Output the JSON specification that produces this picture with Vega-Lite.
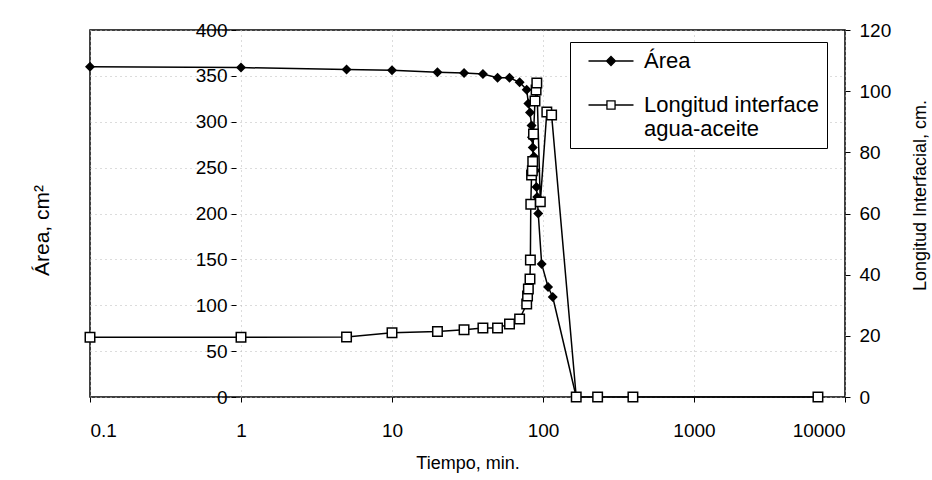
{
  "$schema": "https://vega.github.io/schema/vega-lite/v6.json",
  "width": 755,
  "height": 367,
  "autosize": {"type": "none"},
  "padding": {"left": 90, "top": 30, "right": 87, "bottom": 83},
  "background": "white",
  "config": {
    "font": "Liberation Sans",
    "view": {"stroke": "black", "strokeWidth": 1.5},
    "axis": {
      "labelFont": "Liberation Sans",
      "titleFont": "Liberation Sans",
      "labelColor": "black",
      "titleColor": "black",
      "tickColor": "black",
      "labelFontSize": 19,
      "titleFontSize": 17,
      "titleFontWeight": "normal",
      "tickSize": 5,
      "gridColor": "#b8b8b8",
      "gridDash": [1, 4],
      "gridWidth": 1
    },
    "legend": {
      "labelFont": "Liberation Sans",
      "labelFontSize": 22,
      "labelColor": "black"
    }
  },
  "datasets": {
    "area": [
      {"t": 0.1, "area": 360},
      {"t": 1, "area": 359},
      {"t": 5, "area": 357},
      {"t": 10, "area": 356},
      {"t": 20, "area": 354},
      {"t": 30, "area": 353},
      {"t": 40, "area": 352},
      {"t": 50, "area": 348},
      {"t": 60, "area": 348},
      {"t": 70, "area": 343},
      {"t": 78, "area": 335},
      {"t": 80, "area": 320},
      {"t": 82, "area": 310},
      {"t": 84, "area": 296},
      {"t": 84.5, "area": 283},
      {"t": 85.5, "area": 272},
      {"t": 87, "area": 262},
      {"t": 89, "area": 247},
      {"t": 90.5, "area": 229},
      {"t": 91.5, "area": 218},
      {"t": 93, "area": 200},
      {"t": 98, "area": 145},
      {"t": 108, "area": 120},
      {"t": 116, "area": 109},
      {"t": 166, "area": 0}
    ],
    "inter": [
      {"t": 0.1, "lon": 19.5},
      {"t": 1, "lon": 19.5},
      {"t": 5, "lon": 19.6},
      {"t": 10, "lon": 21},
      {"t": 20, "lon": 21.4},
      {"t": 30, "lon": 22},
      {"t": 40, "lon": 22.6},
      {"t": 50, "lon": 22.6},
      {"t": 60, "lon": 23.9},
      {"t": 70, "lon": 25.5},
      {"t": 78, "lon": 30.4},
      {"t": 79, "lon": 33},
      {"t": 80, "lon": 35.3},
      {"t": 82, "lon": 38.6},
      {"t": 82.5, "lon": 44.8},
      {"t": 83, "lon": 63},
      {"t": 84, "lon": 72.6},
      {"t": 85, "lon": 74},
      {"t": 85.5, "lon": 77},
      {"t": 86.5, "lon": 86},
      {"t": 88.5, "lon": 96.8},
      {"t": 90, "lon": 100.4},
      {"t": 91, "lon": 102.7},
      {"t": 96, "lon": 63.8},
      {"t": 106, "lon": 93.2},
      {"t": 114, "lon": 92.2},
      {"t": 166, "lon": 0},
      {"t": 230, "lon": 0},
      {"t": 394, "lon": 0},
      {"t": 6620, "lon": 0}
    ]
  },
  "encoding": {
    "x": {
      "field": "t",
      "type": "quantitative",
      "scale": {"type": "log", "domain": [0.1, 10000]},
      "axis": {
        "title": "Tiempo, min.",
        "values": [0.1, 1, 10, 100, 1000, 10000],
        "format": "~g",
        "domain": false,
        "grid": true,
        "labelPadding": 19,
        "titlePadding": 14,
        "titleFontSize": 18
      }
    }
  },
  "layer": [
    {
      "data": {"name": "area"},
      "encoding": {
        "y": {
          "field": "area",
          "type": "quantitative",
          "scale": {"domain": [0, 400]},
          "axis": {
            "orient": "left",
            "title": "Área, cm²",
            "titleFontSize": 21,
            "titleY": 200,
            "values": [0, 50, 100, 150, 200, 250, 300, 350, 400],
            "domain": false,
            "grid": true,
            "offset": -146,
            "labelPadding": 4,
            "titlePadding": 143
          }
        }
      },
      "layer": [
        {
          "mark": {"type": "line", "color": "black", "strokeWidth": 1.5},
          "encoding": {
            "color": {
              "datum": "Área",
              "type": "nominal",
              "scale": {"domain": ["Área", "Longitud interface agua-aceite"], "range": ["black", "black"]},
              "legend": {
                "title": null,
                "orient": "none",
                "legendX": 480,
                "legendY": 12,
                "strokeColor": "black",
                "fillColor": "white",
                "padding": 8,
                "symbolSize": 324,
                "symbolOffset": 22,
                "labelOffset": 22,
                "rowPadding": 22,
                "labelLimit": 300,
                "labelExpr": "datum.label == 'Longitud interface agua-aceite' ? ['Longitud interface', 'agua-aceite'] : datum.label",
                "encode": {
                  "symbols": {
                    "update": {
                      "shape": [
                        {"test": "datum.value === 'Área'", "value": "M-2.5,0H2.5M-0.5,0L0,-0.5L0.5,0L0,0.5Z"},
                        {"value": "M-2.5,0H-0.45M0.45,0H2.5M-0.45,-0.45H0.45V0.45H-0.45Z"}
                      ],
                      "fill": [
                        {"test": "datum.value === 'Área'", "value": "black"},
                        {"value": "white"}
                      ],
                      "stroke": {"value": "black"},
                      "strokeWidth": {"value": 1.3},
                      "size": {"value": 324},
                      "opacity": {"value": 1}
                    }
                  }
                }
              }
            }
          }
        },
        {
          "mark": {"type": "point", "shape": "diamond", "filled": true, "color": "black", "size": 100, "opacity": 1}
        }
      ]
    },
    {
      "data": {"name": "inter"},
      "encoding": {
        "y": {
          "field": "lon",
          "type": "quantitative",
          "scale": {"domain": [0, 120]},
          "axis": {
            "orient": "right",
            "title": "Longitud Interfacial, cm.",
            "titleFontSize": 18,
            "titleAngle": 270,
            "titleY": 165,
            "values": [0, 20, 40, 60, 80, 100, 120],
            "domain": false,
            "grid": false,
            "labelPadding": 9,
            "titlePadding": 39
          }
        }
      },
      "layer": [
        {
          "mark": {"type": "line", "color": "black", "strokeWidth": 1.5},
          "encoding": {
            "color": {"datum": "Longitud interface agua-aceite", "type": "nominal"}
          }
        },
        {
          "mark": {"type": "point", "shape": "square", "filled": true, "fill": "white", "stroke": "black", "strokeWidth": 1.5, "size": 90, "opacity": 1}
        }
      ]
    }
  ],
  "resolve": {"scale": {"y": "independent"}}
}
